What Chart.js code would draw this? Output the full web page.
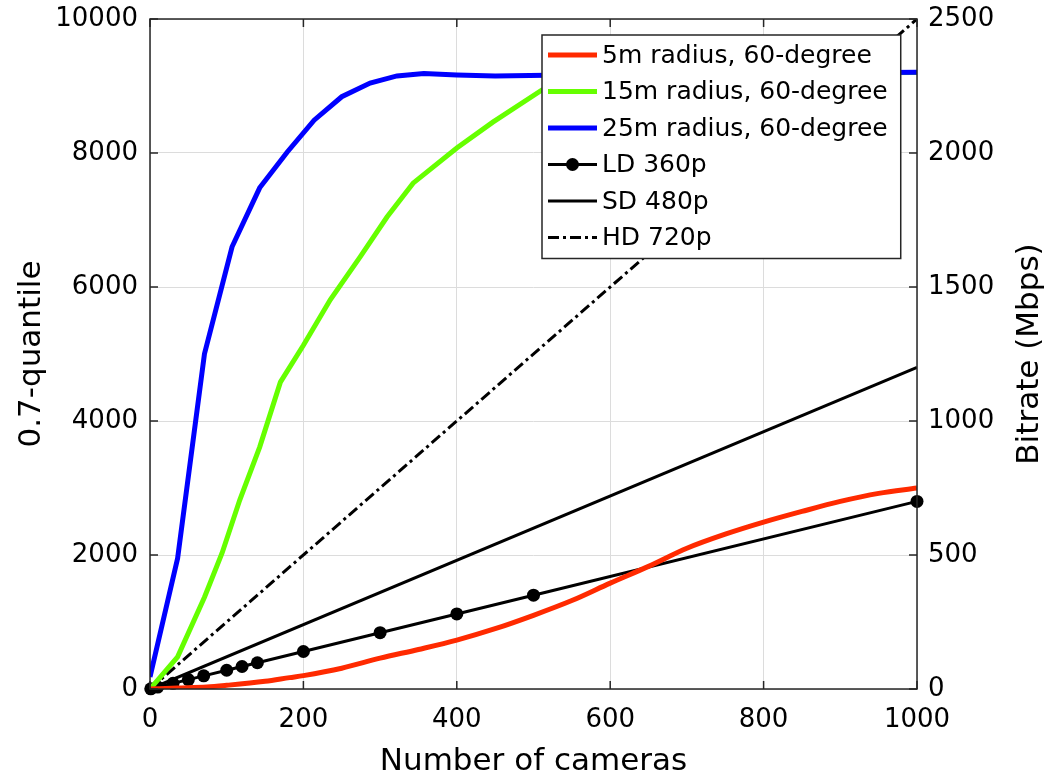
<!DOCTYPE html>
<html>
<head>
<meta charset="utf-8">
<title>Coverage quantile and bitrate vs number of cameras</title>
<script src="https://cdn.jsdelivr.net/npm/chart.js@4.4.0/dist/chart.umd.min.js"></script>
<style>
  html, body { margin: 0; padding: 0; background: #fff; }
  #wrap { width: 1050px; height: 783px; }
</style>
</head>
<body>
<div id="wrap"><canvas id="camChart" width="1050" height="783"></canvas></div>
<script>
// 0.7-quantile of coverage (left axis), by camera radius
const r5Cams  = [0, 36, 74, 100, 150, 182, 200, 250, 300, 350, 400, 450, 500, 550, 600, 650, 700, 750, 800, 850, 900, 950, 1000];
const r5Q     = [0, 15, 30, 55, 115, 170, 200, 310, 460, 590, 730, 900, 1100, 1320, 1580, 1830, 2100, 2310, 2490, 2650, 2800, 2920, 3000];
const r15Cams = [0, 36, 71, 94, 117, 143, 170, 200, 235, 274, 309, 343, 400, 447, 511, 560, 620, 700, 1000];
const r15Q    = [0, 480, 1370, 2030, 2820, 3610, 4580, 5130, 5810, 6450, 7045, 7550, 8075, 8460, 8940, 9080, 9160, 9190, 9200];
const r25Cams = [0, 36, 71, 107, 143, 179, 214, 250, 287, 322, 357, 400, 450, 540, 1000];
const r25Q    = [180, 1950, 5000, 6600, 7480, 8015, 8490, 8840, 9045, 9150, 9185, 9165, 9150, 9165, 9205];

// bitrate in Mbps (right axis)
const ldCams = [1, 10, 30, 50, 70, 100, 120, 140, 200, 300, 400, 500, 1000];
const ldRate = [0.7, 7, 21, 35, 49, 70, 84, 98, 140, 210, 280, 350, 700];
const sdCams = [0, 1000];
const sdRate = [0, 1200];
const hdCams = [0, 1000];
const hdRate = [0, 2500];

// axis ticks
const camTicks  = [0, 200, 400, 600, 800, 1000];
const qTicks    = [0, 2000, 4000, 6000, 8000, 10000];
const rateTicks = [0, 500, 1000, 1500, 2000, 2500];

const FONT = "'DejaVu Sans', 'Liberation Sans', Arial, sans-serif";

function pts(xs, ys) {
    return xs.map((x, i) => ({ x: x, y: ys[i] }));
}

const plainNum = v => String(v);

// fixed axis width; end labels may hang over the plot edge
function fixWidth(w) {
    return s => {
        s.width = w;
        s.paddingTop = 0;
        s.paddingBottom = 0;
    };
}

// box frame, inward tick marks, right title and the legend inside the plot
const frameAndLegend = {
    id: 'frameAndLegend',
    afterDraw(chart) {
        const ctx = chart.ctx;
        const a = chart.chartArea;
        const sx = chart.scales.x, sq = chart.scales.yQ, sr = chart.scales.yRate;
        const tick = 8;

        ctx.save();
        ctx.strokeStyle = '#262626';
        ctx.lineWidth = 1.5;
        ctx.strokeRect(a.left, a.top, a.right - a.left, a.bottom - a.top);

        ctx.beginPath();
        camTicks.forEach(v => {
            const px = sx.getPixelForValue(v);
            ctx.moveTo(px, a.bottom); ctx.lineTo(px, a.bottom - tick);
            ctx.moveTo(px, a.top); ctx.lineTo(px, a.top + tick);
        });
        qTicks.forEach(v => {
            const py = sq.getPixelForValue(v);
            ctx.moveTo(a.left, py); ctx.lineTo(a.left + tick, py);
        });
        rateTicks.forEach(v => {
            const py = sr.getPixelForValue(v);
            ctx.moveTo(a.right, py); ctx.lineTo(a.right - tick, py);
        });
        ctx.stroke();

        // right axis title reads bottom to top
        ctx.fillStyle = '#000';
        ctx.font = '31px ' + FONT;
        ctx.textAlign = 'center';
        ctx.textBaseline = 'middle';
        ctx.translate(sr.right - 20, (a.top + a.bottom) / 2);
        ctx.rotate(-Math.PI / 2);
        ctx.fillText('Bitrate (Mbps)', 0, 0);
        ctx.restore();

        // legend
        ctx.save();
        ctx.font = '25px ' + FONT;
        const sets = chart.data.datasets;
        let maxW = 0;
        sets.forEach(d => { maxW = Math.max(maxW, ctx.measureText(d.label).width); });
        const bx = a.left + 392, by = a.top + 16;
        const bw = 60 + maxW + 13, rowH = 36.5;
        const bh = 20 + rowH * (sets.length - 1) + 21;
        ctx.fillStyle = '#fff';
        ctx.fillRect(bx, by, bw, bh);
        ctx.strokeStyle = '#262626';
        ctx.lineWidth = 1.5;
        ctx.strokeRect(bx, by, bw, bh);

        sets.forEach((d, i) => {
            const cy = by + 20 + i * rowH;
            ctx.save();
            ctx.strokeStyle = d.borderColor;
            ctx.lineWidth = d.borderWidth;
            ctx.setLineDash(d.borderDash || []);
            ctx.beginPath();
            ctx.moveTo(bx + 6, cy);
            ctx.lineTo(bx + 55, cy);
            ctx.stroke();
            if (d.pointRadius > 0) {
                ctx.fillStyle = d.pointBackgroundColor;
                ctx.beginPath();
                ctx.arc(bx + 30.5, cy, d.pointRadius, 0, Math.PI * 2);
                ctx.fill();
            }
            ctx.restore();
            ctx.fillStyle = '#000';
            ctx.textAlign = 'left';
            ctx.textBaseline = 'middle';
            ctx.fillText(d.label, bx + 60, cy + 1);
        });
        ctx.restore();
    }
};

const ctx = document.getElementById('camChart').getContext('2d');
const camChart = new Chart(ctx, {
    type: 'line',
    data: {
        datasets: [
            {
                label: '5m radius, 60-degree',
                data: pts(r5Cams, r5Q),
                yAxisID: 'yQ',
                order: 0,
                borderColor: 'rgb(255, 42, 0)',
                borderWidth: 5,
                pointRadius: 0,
                cubicInterpolationMode: 'monotone'
            },
            {
                label: '15m radius, 60-degree',
                data: pts(r15Cams, r15Q),
                yAxisID: 'yQ',
                order: 2,
                borderColor: 'rgb(102, 255, 0)',
                borderWidth: 5,
                pointRadius: 0,
                tension: 0
            },
            {
                label: '25m radius, 60-degree',
                data: pts(r25Cams, r25Q),
                yAxisID: 'yQ',
                order: 1,
                borderColor: 'rgb(0, 0, 255)',
                borderWidth: 5,
                pointRadius: 0,
                tension: 0
            },
            {
                label: 'LD 360p',
                data: pts(ldCams, ldRate),
                yAxisID: 'yRate',
                order: 3,
                borderColor: '#000',
                borderWidth: 3,
                pointRadius: 6.5,
                pointBackgroundColor: '#000',
                pointBorderWidth: 0,
                clip: false
            },
            {
                label: 'SD 480p',
                data: pts(sdCams, sdRate),
                yAxisID: 'yRate',
                order: 4,
                borderColor: '#000',
                borderWidth: 3,
                pointRadius: 0
            },
            {
                label: 'HD 720p',
                data: pts(hdCams, hdRate),
                yAxisID: 'yRate',
                order: 5,
                borderColor: '#000',
                borderWidth: 3,
                borderDash: [11, 4, 3, 4],
                pointRadius: 0
            }
        ]
    },
    options: {
        responsive: false,
        animation: false,
        layout: { padding: { top: 19, left: 0, right: 0, bottom: 0 } },
        plugins: {
            legend: { display: false },
            tooltip: { enabled: false }
        },
        scales: {
            x: {
                type: 'linear',
                min: 0,
                max: 1000,
                afterBuildTicks: s => { s.ticks = camTicks.map(v => ({ value: v })); },
                afterFit: s => { s.height = 94; },
                grid: { color: '#dcdcdc', lineWidth: 1, drawTicks: false },
                border: { display: false },
                ticks: { color: '#000', padding: 16, maxRotation: 0, callback: plainNum, font: { family: FONT, size: 26 } },
                title: {
                    display: true,
                    text: 'Number of cameras',
                    color: '#000',
                    font: { family: FONT, size: 31 },
                    padding: { top: 0, bottom: 2 }
                }
            },
            yQ: {
                type: 'linear',
                position: 'left',
                min: 0,
                max: 10000,
                afterBuildTicks: s => { s.ticks = qTicks.map(v => ({ value: v })); },
                afterFit: fixWidth(150),
                grid: { color: '#dcdcdc', lineWidth: 1, drawTicks: false },
                border: { display: false },
                ticks: { color: '#000', padding: 12, callback: plainNum, font: { family: FONT, size: 26 } },
                title: {
                    display: true,
                    text: '0.7-quantile',
                    color: '#000',
                    font: { family: FONT, size: 31 },
                    padding: { top: 13, bottom: 0 }
                }
            },
            yRate: {
                type: 'linear',
                position: 'right',
                min: 0,
                max: 2500,
                afterBuildTicks: s => { s.ticks = rateTicks.map(v => ({ value: v })); },
                afterFit: fixWidth(133),
                grid: { display: false, drawTicks: false },
                border: { display: false },
                ticks: { color: '#000', padding: 11, callback: plainNum, font: { family: FONT, size: 26 } }
            }
        }
    },
    plugins: [frameAndLegend]
});
</script>
</body>
</html>
